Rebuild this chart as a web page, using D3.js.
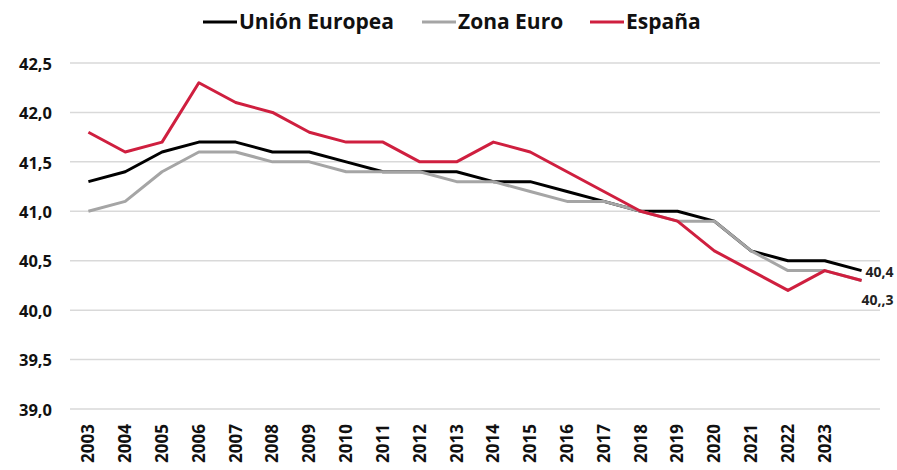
<!DOCTYPE html>
<html>
<head>
<meta charset="utf-8">
<script src="https://cdn.jsdelivr.net/npm/d3@7"></script>
<style>
  body { margin: 0; background: #fff; }
  svg { font-family: "Open Sans", "Noto Sans", sans-serif; font-weight: bold; }
</style>
</head>
<body>
<div id="chart"></div>
<script>
// years 2003..2024, last one has no tick label in the original
const years = d3.range(2003, 2025);
const tickYears = d3.range(2003, 2024);
const ue = [41.3, 41.4, 41.6, 41.7, 41.7, 41.6, 41.6, 41.5, 41.4, 41.4, 41.4,
  41.3, 41.3, 41.2, 41.1, 41.0, 41.0, 40.9, 40.6, 40.5, 40.5, 40.4];
const euro = [41.0, 41.1, 41.4, 41.6, 41.6, 41.5, 41.5, 41.4, 41.4, 41.4, 41.3,
  41.3, 41.2, 41.1, 41.1, 41.0, 40.9, 40.9, 40.6, 40.4, 40.4, 40.3];
const espana = [41.8, 41.6, 41.7, 42.3, 42.1, 42.0, 41.8, 41.7, 41.7, 41.5, 41.5,
  41.7, 41.6, 41.4, 41.2, 41.0, 40.9, 40.6, 40.4, 40.2, 40.4, 40.3];
const yTicks = [39.0, 39.5, 40.0, 40.5, 41.0, 41.5, 42.0, 42.5];
const endLabels = ["40,4", "40,,3"];

const series = [
  { name: "Unión Europea", values: ue, color: "#000000" },
  { name: "Zona Euro", values: euro, color: "#a5a5a5" },
  { name: "España", values: espana, color: "#cf1f3f" },
];

const width = 897, height = 470;
const margin = { top: 63, right: 17, bottom: 61, left: 70 };

const svg = d3.select("#chart").append("svg")
  .attr("width", width).attr("height", height);

const x = d3.scalePoint()
  .domain(years)
  .range([margin.left, width - margin.right])
  .padding(0.5);

const y = d3.scaleLinear()
  .domain([39, 42.5])
  .range([height - margin.bottom, margin.top]);

// gridlines
svg.append("g")
  .selectAll("line")
  .data(yTicks)
  .join("line")
  .attr("x1", margin.left).attr("x2", width - margin.right)
  .attr("y1", d => y(d)).attr("y2", d => y(d))
  .attr("stroke", "#d9d9d9").attr("stroke-width", 1.5);

// y labels
const fmt = d => d.toFixed(1).replace(".", ",");
svg.append("g")
  .selectAll("text")
  .data(yTicks)
  .join("text")
  .attr("x", 52).attr("y", d => y(d) + 1)
  .attr("dy", "0.35em")
  .attr("text-anchor", "end")
  .attr("font-size", 16.5)
  .attr("fill", "#111")
  .text(fmt);

// x labels, rotated
svg.append("g")
  .selectAll("text")
  .data(tickYears)
  .join("text")
  .attr("transform", d => `translate(${x(d)},${height - margin.bottom + 15}) rotate(-90)`)
  .attr("dy", "0.35em")
  .attr("text-anchor", "end")
  .attr("font-size", 17)
  .attr("fill", "#111")
  .text(d => d);

const line = d3.line()
  .x((d, i) => x(years[i]))
  .y(d => y(d));

svg.append("g")
  .selectAll("path")
  .data(series)
  .join("path")
  .attr("d", d => line(d.values))
  .attr("fill", "none")
  .attr("stroke", d => d.color)
  .attr("stroke-width", 3)
  .attr("stroke-linejoin", "round");

// end labels
const last = years.length - 1;
svg.append("text")
  .attr("x", x(years[last]) + 4).attr("y", y(ue[last]) + 1)
  .attr("dy", "0.35em")
  .attr("font-size", 14).attr("fill", "#222")
  .text(endLabels[0]);
svg.append("text")
  .attr("x", x(years[last])).attr("y", y(espana[last]) + 20)
  .attr("dy", "0.35em")
  .attr("font-size", 14).attr("fill", "#222")
  .text(endLabels[1]);

// legend
const legendX = [203, 422, 590];
const legend = svg.append("g")
  .selectAll("g")
  .data(series)
  .join("g")
  .attr("transform", (d, i) => `translate(${legendX[i]},22)`);
legend.append("line")
  .attr("x1", 0).attr("x2", 34)
  .attr("stroke", d => d.color).attr("stroke-width", 3);
legend.append("text")
  .attr("x", 36).attr("dy", "0.35em")
  .attr("font-size", 21).attr("fill", "#111")
  .text(d => d.name);
</script>
</body>
</html>
